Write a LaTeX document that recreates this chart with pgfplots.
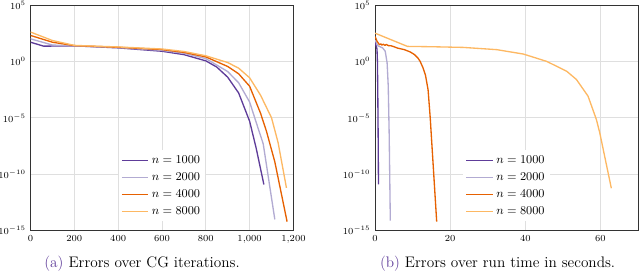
\documentclass[border=0pt]{standalone}
\usepackage{pgfplots}
\pgfplotsset{compat=1.18}
\definecolor{c1}{HTML}{5E3C99}
\definecolor{c2}{HTML}{B2ABD2}
\definecolor{c3}{HTML}{E66101}
\definecolor{c4}{HTML}{FDB863}
\pgfplotsset{
  legend image code/.code={\draw[#1] (0pt,0pt) -- (20pt,0pt);},
  every axis plot/.append style={line width=1pt, line join=round},
}
\begin{document}
\begin{tikzpicture}
\useasboundingbox (-23pt,-35.6pt) rectangle (459pt,173.75pt);
\begin{axis}[at={(0,0)}, xmin=0, xmax=1200, xtick={0,200,...,1200},
    scale only axis, width=198pt, height=170pt,
    ymode=log, ymin=1e-15, ymax=1e5,
    ytick={1e-15,1e-10,1e-5,1,1e5},
    grid=major,
    major grid style={gray!25, line width=0.6pt},
    axis line style={black!80},
    tick style={draw=none},
    ticklabel style={font=\scriptsize},
    legend style={draw=none, fill=white, font=\small, at={(0.5,0.04)}, anchor=south,
      row sep=1.5pt, inner sep=2pt},
    legend cell align=left]
\addplot[c1] coordinates {(0,50.1) (60,22.4) (200,24.0) (400,15.8) (600,7.94) (700,3.98) (800,1.12) (850,0.316) (900,0.0398) (950,1.58e-3) (1000,5.0e-6) (1030,2.0e-8) (1065,1.26e-11)};
\addplot[c2] coordinates {(0,100) (100,28.2) (200,24.0) (400,16.6) (600,9.55) (700,5.25) (800,1.78) (900,0.126) (950,1.26e-2) (1000,2.51e-4) (1040,1e-6) (1062,5.0e-8) (1115,1e-14)};
\addplot[c3] coordinates {(0,200) (100,50.1) (200,25.1) (400,17.8) (600,11.2) (700,6.31) (800,2.51) (900,0.355) (950,0.0794) (1000,6.31e-3) (1050,2.51e-5) (1077,6.31e-7) (1115,1.26e-9) (1171,6.31e-15)};
\addplot[c4] coordinates {(0,398) (100,70.8) (200,26.3) (400,19.1) (600,12.6) (700,7.59) (800,3.16) (900,0.794) (950,0.251) (1000,0.0355) (1050,1e-3) (1100,1e-5) (1130,6.31e-8) (1168,6.31e-12)};
\legend{$n=1000$,$n=2000$,$n=4000$,$n=8000$}
\end{axis}
\begin{axis}[at={(259.5pt,0)}, xmin=0, xmax=70, xtick={0,20,40,60},
    scale only axis, width=198pt, height=170pt,
    ymode=log, ymin=1e-15, ymax=1e5,
    ytick={1e-15,1e-10,1e-5,1,1e5},
    grid=major,
    major grid style={gray!25, line width=0.6pt},
    axis line style={black!80},
    tick style={draw=none},
    ticklabel style={font=\scriptsize},
    legend style={draw=none, fill=white, font=\small, at={(0.5,0.04)}, anchor=south,
      row sep=1.5pt, inner sep=2pt},
    legend cell align=left]
\addplot[c1] coordinates {(0,50.1) (0.3,22.4) (0.5,12.6) (0.62,1) (0.72,1e-3) (0.82,1e-7) (0.9,1.26e-11)};
\addplot[c2] coordinates {(0,79.4) (0.7,24.5) (2.0,15.8) (2.7,7.94) (3.2,0.724) (3.5,6.31e-3) (3.75,3.16e-7) (4.05,7.94e-15)};
\addplot[c3] coordinates {(0,158) (0.5,63.1) (1.15,30.2) (1.5,35.5) (1.8,28.2) (2.2,33.1) (2.6,26.3) (3.0,31.6) (3.5,25.1) (4.2,24.5) (5.0,20.0) (6.0,15.1) (7.8,11.0) (9.3,7.0) (10.5,4.0) (11.4,2.0) (12.0,1.0) (12.8,0.25) (13.4,0.063) (14.1,3.16e-3) (14.7,7.94e-6) (14.9,6.31e-7) (16.4,6.31e-15)};
\addplot[c4] coordinates {(0,316) (8.6,21.4) (15,20) (23.5,17.4) (32.4,11.0) (39.5,4.47) (45.7,1) (51,0.135) (53.6,0.0251) (56.7,8.32e-4) (58.9,7.41e-6) (59.8,5.0e-7) (62.9,5.75e-12)};
\legend{$n=1000$,$n=2000$,$n=4000$,$n=8000$}
\end{axis}
\node at (84pt,-24.75pt) {\fontsize{11.5}{14}\selectfont\textcolor{c1}{(a)} Errors over CG iterations.};
\node at (351.75pt,-24.75pt) {\fontsize{11.5}{14}\selectfont\textcolor{c1}{(b)} Errors over run time in seconds.};
\end{tikzpicture}
\end{document}
